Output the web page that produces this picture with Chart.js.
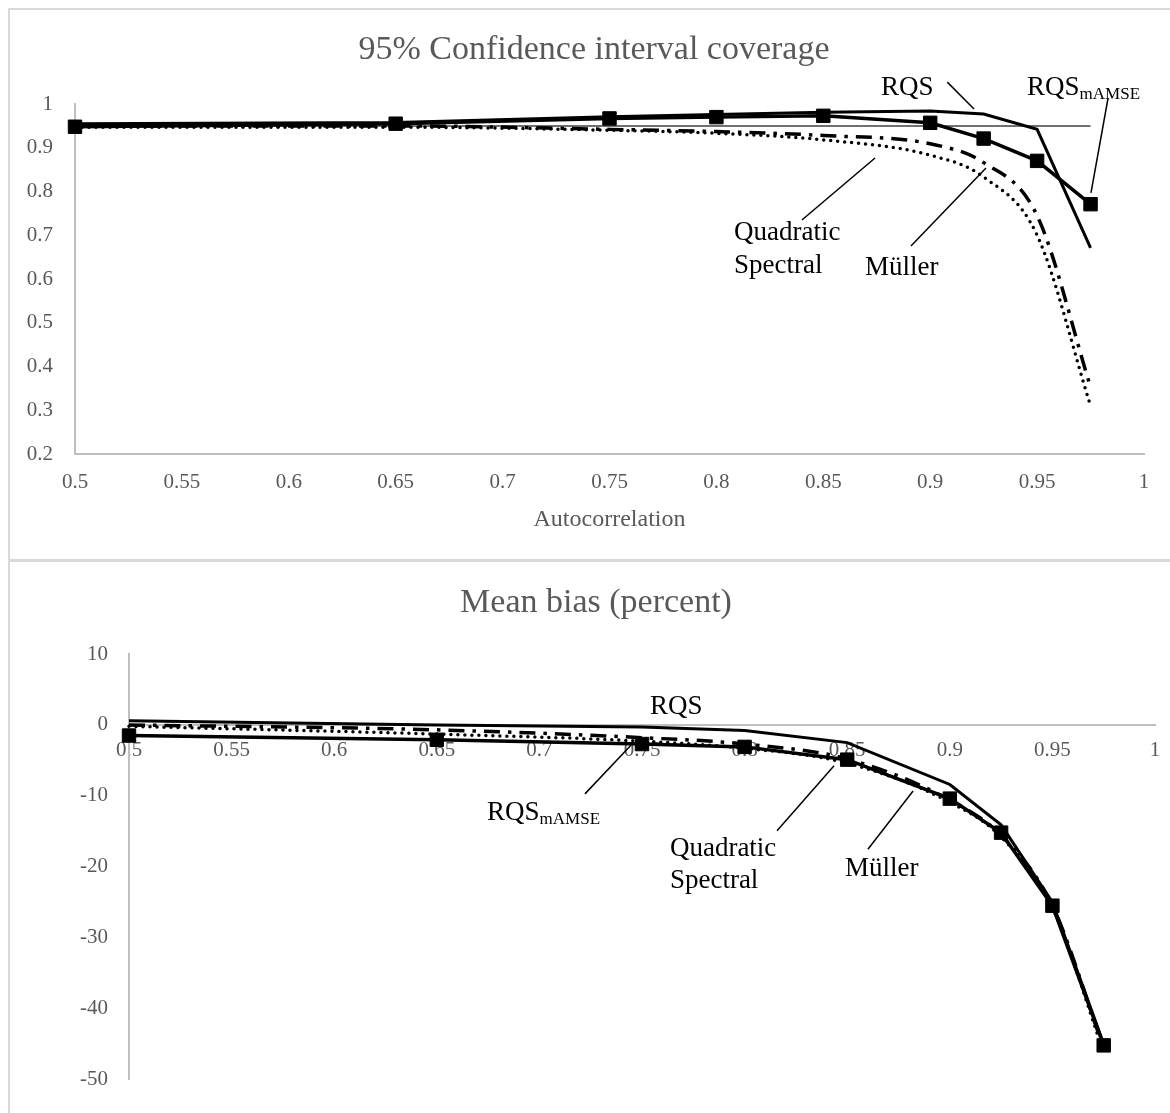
<!DOCTYPE html>
<html>
<head>
<meta charset="utf-8">
<script src="https://cdn.jsdelivr.net/npm/chart.js@4.4.1/dist/chart.umd.min.js"></script>
<style>
  html, body { margin: 0; padding: 0; background: #fff; overflow: hidden; }
  .frame { position: absolute; box-sizing: border-box; border: 2px solid #d9d9d9; }
  #coverageFrame { left: 8px; top: 8px; width: 1200px; height: 553px; }
  #biasFrame { left: 8px; top: 560px; width: 1200px; height: 600px; }
  canvas { position: absolute; }
  #coverageChart { left: 9px; top: 9px; }
  #biasChart { left: 9px; top: 561px; }
</style>
</head>
<body>
<div class="frame" id="coverageFrame"></div>
<div class="frame" id="biasFrame"></div>
<canvas id="coverageChart" width="1170" height="548"></canvas>
<canvas id="biasChart" width="1170" height="552"></canvas>
<script>
// autocorrelation values used in the simulation
const autocorr = [0.5, 0.65, 0.75, 0.8, 0.85, 0.9, 0.925, 0.95, 0.975];

// 95% CI coverage
const covRQS      = [0.955, 0.958, 0.971, 0.976, 0.981, 0.984, 0.977, 0.942, 0.671];
const covRQSmAMSE = [0.948, 0.955, 0.967, 0.970, 0.973, 0.957, 0.921, 0.870, 0.771];
const covMuller   = [0.950, 0.950, 0.942, 0.937, 0.928, 0.909, 0.866, 0.745, 0.353];
const covQS       = [0.947, 0.947, 0.940, 0.933, 0.918, 0.883, 0.833, 0.700, 0.310];
const covNominal  = [0.95, 0.95, 0.95, 0.95, 0.95, 0.95, 0.95, 0.95, 0.95];

// mean bias (percent)
const biasRQS      = [0.6, 0.0, -0.3, -0.8, -2.5, -8.4, -14.1, -25.0, -45.0];
const biasRQSmAMSE = [-1.5, -2.1, -2.7, -3.1, -4.9, -10.4, -15.2, -25.5, -45.2];
const biasMuller   = [0.0, -0.7, -1.8, -2.7, -4.8, -10.6, -15.6, -25.5, -45.6];
const biasQS       = [-0.2, -1.3, -2.3, -3.3, -5.4, -10.9, -15.8, -25.8, -46.2];

// tick labels
const xTickLabels = ['0.5', '0.55', '0.6', '0.65', '0.7', '0.75', '0.8', '0.85', '0.9', '0.95', '1'];
const covTickLabels = ['0.2', '0.3', '0.4', '0.5', '0.6', '0.7', '0.8', '0.9', '1'];
const biasTickLabels = ['-50', '-40', '-30', '-20', '-10', '0', '10'];

Chart.defaults.font.family = '"Liberation Serif", "Times New Roman", serif';
Chart.defaults.color = '#595959';

const pts = vals => autocorr.map((x, i) => ({ x: x, y: vals[i] }));

// text labels with leader lines, placed in data units
const calloutPlugin = {
    id: 'callouts',
    afterDatasetsDraw(chart, args, opts) {
        const ctx = chart.ctx;
        const xs = chart.scales.x;
        const ys = chart.scales.y;
        ctx.save();
        ctx.strokeStyle = '#000';
        ctx.lineWidth = 1.5;
        (opts.leaders || []).forEach(l => {
            ctx.beginPath();
            ctx.moveTo(xs.getPixelForValue(l[0]), ys.getPixelForValue(l[1]));
            ctx.lineTo(xs.getPixelForValue(l[2]), ys.getPixelForValue(l[3]));
            ctx.stroke();
        });
        ctx.fillStyle = '#000';
        ctx.textBaseline = 'alphabetic';
        ctx.textAlign = 'left';
        (opts.labels || []).forEach(t => {
            const px = xs.getPixelForValue(t.x);
            const py = ys.getPixelForValue(t.y);
            ctx.font = '27px "Liberation Serif"';
            ctx.fillText(t.text, px, py);
            if (t.sub) {
                const w = ctx.measureText(t.text).width;
                ctx.font = '17px "Liberation Serif"';
                ctx.fillText(t.sub, px + w, py + 4);
            }
        });
        ctx.restore();
    }
};

function lineSets(rqs, rqsm, muller, qs) {
    return [
        {
            label: 'RQS',
            data: pts(rqs),
            yAxisID: 'y',
            borderColor: '#000',
            borderWidth: 3,
            pointRadius: 0,
            clip: false
        },
        {
            label: 'RQSmAMSE',
            data: pts(rqsm),
            yAxisID: 'y',
            borderColor: '#000',
            backgroundColor: '#000',
            borderWidth: 3.5,
            pointStyle: 'rect',
            pointRadius: 9.5,
            pointBorderWidth: 1,
            clip: false
        },
        {
            label: 'Müller',
            data: pts(muller),
            yAxisID: 'y',
            borderColor: '#000',
            borderWidth: 3.5,
            borderDash: [16, 8, 3.5, 8],
            cubicInterpolationMode: 'monotone',
            pointRadius: 0,
            clip: false
        },
        {
            label: 'Quadratic Spectral',
            data: pts(qs),
            yAxisID: 'y',
            borderColor: '#000',
            borderWidth: 3.5,
            borderDash: [0, 7],
            borderCapStyle: 'round',
            cubicInterpolationMode: 'monotone',
            pointRadius: 0,
            clip: false
        }
    ];
}

// empty right-hand axis that only holds space, so the title stays centred on the frame
function spacerAxis(width) {
    return {
        position: 'right',
        display: true,
        grid: { display: false, drawTicks: false },
        border: { display: false },
        ticks: { display: false },
        afterFit: s => { s.width = width; }
    };
}

document.addEventListener('DOMContentLoaded', function() {
    // Coverage chart
    const covSets = lineSets(covRQS, covRQSmAMSE, covMuller, covQS);
    covSets.push({
        label: 'Nominal',
        data: pts(covNominal),
        yAxisID: 'y',
        borderColor: '#404040',
        borderWidth: 1.5,
        pointRadius: 0
    });

    new Chart(document.getElementById('coverageChart'), {
        type: 'line',
        data: { datasets: covSets },
        plugins: [calloutPlugin],
        options: {
            responsive: false,
            animation: false,
            layout: { padding: 0 },
            plugins: {
                legend: { display: false },
                tooltip: { enabled: false },
                title: {
                    display: true,
                    text: '95% Confidence interval coverage',
                    color: '#595959',
                    font: { size: 34, weight: 'normal' },
                    padding: { top: 20.6, bottom: 33.6 }
                },
                callouts: {
                    labels: [
                        { x: 0.877, y: 1.0206, text: 'RQS' },
                        { x: 0.9453, y: 1.0206, text: 'RQS', sub: 'mAMSE' },
                        { x: 0.8082, y: 0.6891, text: 'Quadratic' },
                        { x: 0.8082, y: 0.6137, text: 'Spectral' },
                        { x: 0.8695, y: 0.609, text: 'Müller' }
                    ],
                    leaders: [
                        [0.908, 1.050, 0.9205, 0.9886],
                        [0.9832, 1.0137, 0.9752, 0.7966],
                        [0.840, 0.7349, 0.8742, 0.8766],
                        [0.891, 0.6754, 0.9261, 0.8537]
                    ]
                }
            },
            scales: {
                x: {
                    type: 'linear',
                    min: 0.5,
                    max: 1,
                    grid: { display: false, drawTicks: false },
                    border: { display: true, color: '#bfbfbf', width: 2 },
                    ticks: {
                        stepSize: 0.05,
                        padding: 16,
                        autoSkip: false,
                        maxRotation: 0,
                        color: '#595959',
                        font: { size: 21 },
                        callback: (v, i) => xTickLabels[i]
                    },
                    title: {
                        display: true,
                        text: 'Autocorrelation',
                        color: '#595959',
                        font: { size: 24 },
                        padding: { top: 0, bottom: 23 }
                    },
                    afterFit: s => { s.height = 103; }
                },
                y: {
                    min: 0.2,
                    max: 1,
                    grid: { display: false, drawTicks: false },
                    border: { display: true, color: '#bfbfbf', width: 2 },
                    ticks: {
                        stepSize: 0.1,
                        padding: 22,
                        color: '#595959',
                        font: { size: 21 },
                        callback: (v, i) => covTickLabels[i]
                    },
                    afterFit: s => { s.width = 66; }
                },
                y2: spacerAxis(35)
            }
        }
    });

    // Mean bias chart
    new Chart(document.getElementById('biasChart'), {
        type: 'line',
        data: { datasets: lineSets(biasRQS, biasRQSmAMSE, biasMuller, biasQS) },
        plugins: [calloutPlugin],
        options: {
            responsive: false,
            animation: false,
            layout: { padding: { left: 4, right: 0, top: 0, bottom: 0 } },
            plugins: {
                legend: { display: false },
                tooltip: { enabled: false },
                title: {
                    display: true,
                    text: 'Mean bias (percent)',
                    color: '#595959',
                    font: { size: 34, weight: 'normal' },
                    padding: { top: 21.6, bottom: 30.6 }
                },
                callouts: {
                    labels: [
                        { x: 0.7539, y: 1.51, text: 'RQS' },
                        { x: 0.6745, y: -13.42, text: 'RQS', sub: 'mAMSE' },
                        { x: 0.7636, y: -18.49, text: 'Quadratic' },
                        { x: 0.7636, y: -23.01, text: 'Spectral' },
                        { x: 0.8489, y: -21.37, text: 'Müller' }
                    ],
                    leaders: [
                        [0.7222, -9.73, 0.7446, -2.88],
                        [0.8158, -14.93, 0.8436, -5.75],
                        [0.8601, -17.53, 0.8821, -9.32]
                    ]
                }
            },
            scales: {
                x: {
                    type: 'linear',
                    min: 0.5,
                    max: 1,
                    position: { y: 0 },
                    grid: { display: false, drawTicks: false },
                    border: { display: true, color: '#bfbfbf', width: 2 },
                    ticks: {
                        stepSize: 0.05,
                        padding: 13,
                        autoSkip: false,
                        maxRotation: 0,
                        color: '#595959',
                        font: { size: 21 },
                        callback: (v, i) => xTickLabels[i]
                    },
                    afterFit: s => { s.height = 21; }
                },
                y: {
                    min: -50,
                    max: 10,
                    grid: { display: false, drawTicks: false },
                    border: { display: true, color: '#bfbfbf', width: 2 },
                    ticks: {
                        stepSize: 10,
                        padding: 21,
                        color: '#595959',
                        font: { size: 21 },
                        callback: (v, i) => biasTickLabels[i]
                    },
                    afterFit: s => { s.width = 116; }
                },
                y2: spacerAxis(24)
            }
        }
    });
});
</script>
</body>
</html>
